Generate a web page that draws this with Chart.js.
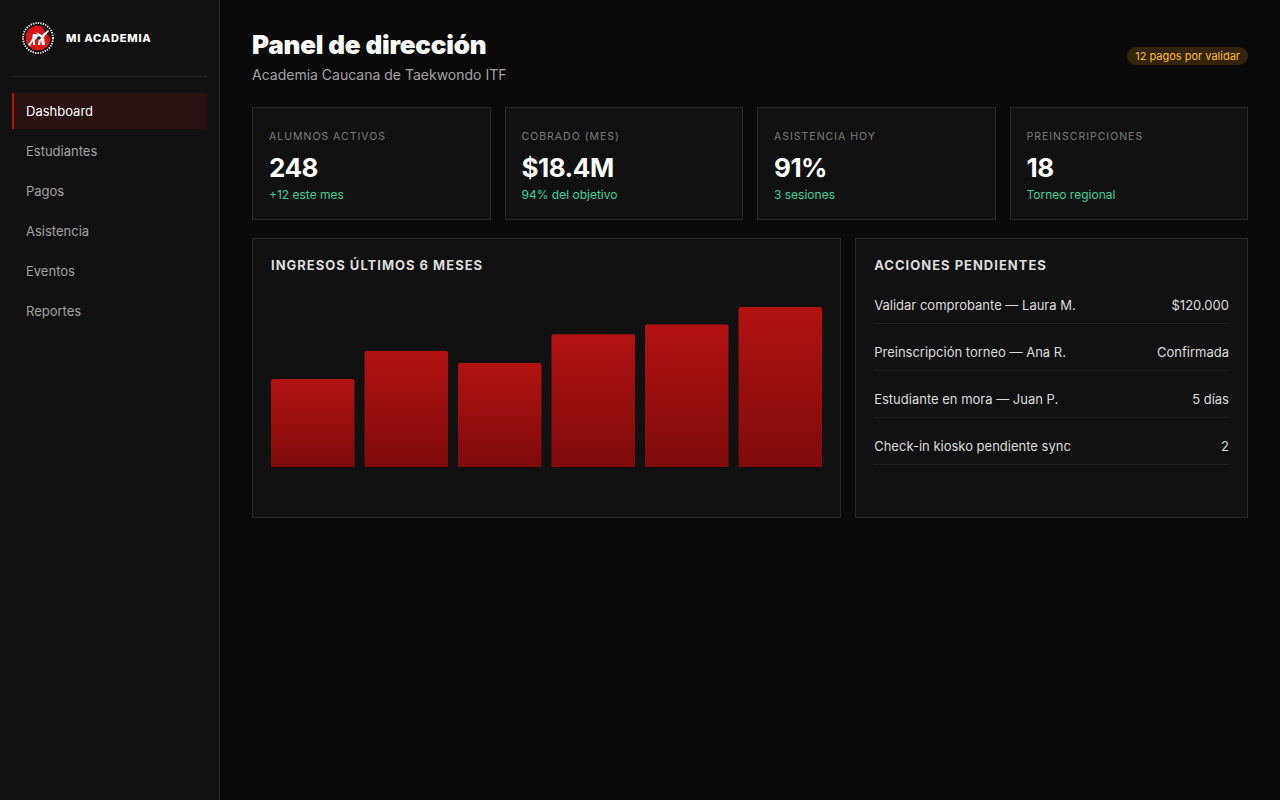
<!DOCTYPE html>
<html lang="es">
<head>
<meta charset="utf-8">
<title>Panel de dirección</title>
<script src="https://cdn.jsdelivr.net/npm/chart.js@4"></script>
<style>
* { box-sizing: border-box; }
html, body { margin: 0; height: 100%; background: #0a0a0a; overflow: hidden; }
body { font-family: Inter, sans-serif; color: #fff; width: 1280px; height: 800px; position: relative; }
.side { position: absolute; left: 0; top: 0; width: 220px; height: 800px; background: #111; border-right: 1px solid #2a2a2a; }
.logo { position: absolute; left: 21px; top: 21px; width: 34px; height: 34px; }
.brand { position: absolute; left: 66px; top: 31px; font-size: 11px; line-height: 14px; font-weight: 800; letter-spacing: 0.8px; }
.rule { position: absolute; left: 12px; top: 76px; width: 195px; height: 1px; background: #2a2a2a; }
.nav { position: absolute; left: 12px; width: 195px; height: 36px; padding-left: 14px; line-height: 36px; font-size: 13px; color: #a3a3a3; }
.nav.on { color: #fff; background: #28110f; border-left: 2px solid #b31212; padding-left: 12px; }
.main { position: absolute; left: 252px; top: 0; width: 996px; }
h1 { position: absolute; left: 0; top: 28px; margin: 0; font-size: 26px; line-height: 34px; font-weight: 900; letter-spacing: -0.2px; }
.subt { position: absolute; left: 0; top: 66px; font-size: 14px; line-height: 18px; color: #a3a3a3; }
.badge { position: absolute; right: 0; top: 47px; height: 18px; line-height: 18px; padding: 0 8px; border-radius: 9px; font-size: 11px; background: #33240a; color: #fbbf24; }
.cards { position: absolute; left: 0; top: 107px; width: 996px; display: grid; grid-template-columns: repeat(4, 1fr); gap: 14px; }
.card { height: 113px; background: #111; border: 1px solid #2a2a2a; padding: 22px 16px 0; }
.lab { font-size: 10.5px; line-height: 14px; letter-spacing: 1px; color: #7d7d7d; }
.val { font-size: 26px; line-height: 32px; font-weight: 700; letter-spacing: -0.5px; margin-top: 8px; }
.sub { font-size: 12px; line-height: 16px; margin-top: 3px; color: #34d399; }
.panels { position: absolute; left: 0; top: 238px; width: 996px; height: 280px; display: grid; grid-template-columns: 1.5fr 1fr; gap: 14px; }
.panel { position: relative; background: #111; border: 1px solid #2a2a2a; padding: 18px; }
.ptitle { font-size: 13px; line-height: 17px; font-weight: 700; letter-spacing: 1px; color: #ddd; }
.chartbox { position: absolute; left: 13px; top: 40px; width: 561px; height: 188px; }
.row { position: absolute; left: 18px; right: 18px; height: 47px; display: flex; justify-content: space-between; font-size: 13px; line-height: 18px; color: #ddd; border-bottom: 1px solid #1f1f1f; padding-top: 19px; }
</style>
</head>
<body>
<div class="side">
  <svg class="logo" viewBox="0 0 34 34">
    <circle cx="17" cy="17" r="16.5" fill="#000"/>
    <circle cx="17" cy="17" r="15" fill="none" stroke="#ddd" stroke-width="2" stroke-dasharray="1.5 1"/>
    <circle cx="17" cy="17" r="12.5" fill="#d81414"/>
    <path d="M20 5 A12.5 12.5 0 0 1 29 17 L25 12 Z" fill="#111"/>
    <path d="M7 24 L11 18 L12 13 L15 13 L18 15 L14 19 L14 24 L12 24 L12 20 L9 25 Z" fill="#fff"/>
    <path d="M15 11 L21 14 L27 9 L28 10 L23 16 L24 24 L21 24 L20 19 L19 24 L17 24 L18 16 Z" fill="#fff"/>
    <circle cx="18" cy="17" r="1.8" fill="#222"/>
  </svg>
  <div class="brand">MI ACADEMIA</div>
  <div class="rule"></div>
  <div id="nav"></div>
</div>
<div class="main">
  <h1>Panel de dirección</h1>
  <div class="subt">Academia Caucana de Taekwondo ITF</div>
  <div class="badge">12 pagos por validar</div>
  <div class="cards" id="cards"></div>
  <div class="panels">
    <div class="panel">
      <div class="ptitle">INGRESOS ÚLTIMOS 6 MESES</div>
      <div class="chartbox"><canvas id="ingresos"></canvas></div>
    </div>
    <div class="panel" id="acciones">
      <div class="ptitle">ACCIONES PENDIENTES</div>
    </div>
  </div>
</div>
<script>
const navItems = ['Dashboard', 'Estudiantes', 'Pagos', 'Asistencia', 'Eventos', 'Reportes'];
const cardLabels = ['ALUMNOS ACTIVOS', 'COBRADO (MES)', 'ASISTENCIA HOY', 'PREINSCRIPCIONES'];
const cardValues = ['248', '$18.4M', '91%', '18'];
const cardNotes = ['+12 este mes', '94% del objetivo', '3 sesiones', 'Torneo regional'];
const actionNames = ['Validar comprobante — Laura M.', 'Preinscripción torneo — Ana R.', 'Estudiante en mora — Juan P.', 'Check-in kiosko pendiente sync'];
const actionValues = ['$120.000', 'Confirmada', '5 días', '2'];

// no month names visible in the picture, so the categories are just positions
const months = ['1', '2', '3', '4', '5', '6'];
const ingresos = [55, 72.5, 65, 83, 89, 100];

document.getElementById('nav').innerHTML = navItems.map((n, i) =>
    `<div class="nav${i === 0 ? ' on' : ''}" style="top:${93 + i * 40}px">${n}</div>`).join('');

document.getElementById('cards').innerHTML = cardLabels.map((l, i) =>
    `<div class="card"><div class="lab">${l}</div><div class="val">${cardValues[i]}</div><div class="sub">${cardNotes[i]}</div></div>`).join('');

document.getElementById('acciones').insertAdjacentHTML('beforeend', actionNames.map((n, i) =>
    `<div class="row" style="top:${38 + i * 47}px"><span>${n}</span><span>${actionValues[i]}</span></div>`).join(''));

// every bar gets its own top-to-bottom gradient
function barGradient(context) {
    const { chart, parsed } = context;
    if (!chart.chartArea || !parsed) return '#9a0f0f';
    const yScale = chart.scales.y;
    const g = chart.ctx.createLinearGradient(0, yScale.getPixelForValue(parsed.y), 0, yScale.getPixelForValue(0));
    g.addColorStop(0, '#b31212');
    g.addColorStop(1, '#7f0b0b');
    return g;
}

new Chart(document.getElementById('ingresos'), {
    type: 'bar',
    data: {
        labels: months,
        datasets: [{
            data: ingresos,
            backgroundColor: barGradient,
            borderRadius: { topLeft: 2, topRight: 2, bottomLeft: 0, bottomRight: 0 },
            borderSkipped: false,
            categoryPercentage: 1,
            barPercentage: 0.893
        }]
    },
    options: {
        responsive: true,
        maintainAspectRatio: false,
        animation: false,
        layout: { padding: { top: 28, bottom: 0, left: 0, right: 0 } },
        plugins: { legend: { display: false }, tooltip: { enabled: false } },
        scales: {
            x: { display: false },
            y: { display: false, min: 0, max: 100 }
        }
    }
});
</script>
</body>
</html>
